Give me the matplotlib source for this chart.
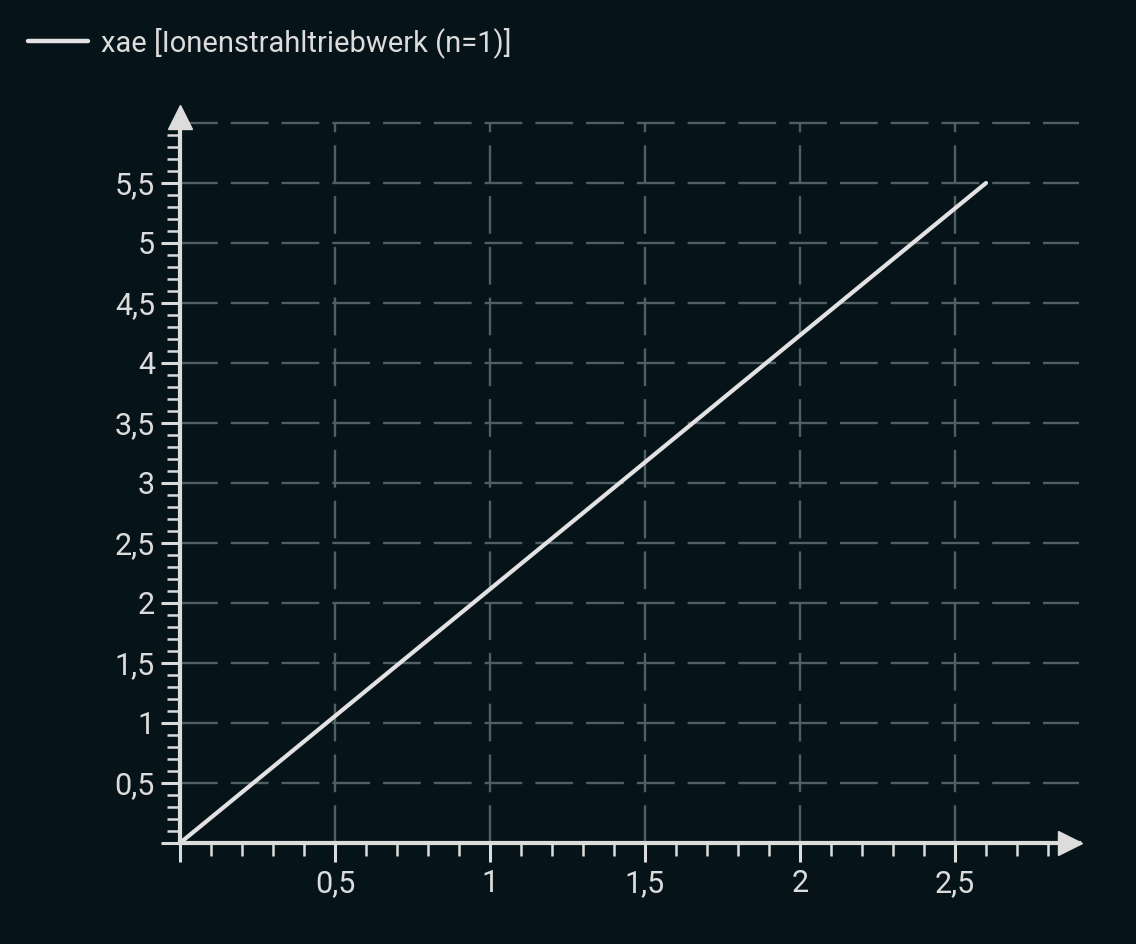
import matplotlib
matplotlib.use("Agg")
import matplotlib.pyplot as plt
import numpy as np
from matplotlib.ticker import FixedLocator, FuncFormatter

plt.rcParams['font.family'] = ['Roboto', 'DejaVu Sans']

# data
x_vals = [0.0, 2.6]
y_vals = [0.0, 5.5]
series_name = "xae [Ionenstrahltriebwerk (n=1)]"

x_major = [0.5, 1.0, 1.5, 2.0, 2.5]
y_major = [0.5, 1.0, 1.5, 2.0, 2.5, 3.0, 3.5, 4.0, 4.5, 5.0, 5.5, 6.0]

bg = "#061419"
fg = "#dcdcdc"
grid_col = "#4f5f63"

fig = plt.figure(figsize=(11.36, 9.44), dpi=100, facecolor=bg)
ax = fig.add_axes([180 / 1136, 101 / 944, 899 / 1136, 720 / 944])
ax.set_facecolor(bg)

ax.set_xlim(0, 2.9)
ax.set_ylim(0, 6.0)

# the series
ax.plot(x_vals, y_vals, color="#e2e2e2", lw=3, solid_capstyle="round",
        label=series_name, zorder=4)

# spines at zero, with arrows
for s in ["top", "right"]:
    ax.spines[s].set_visible(False)
for s in ["left", "bottom"]:
    ax.spines[s].set_color(fg)
    ax.spines[s].set_linewidth(3)
    ax.spines[s].set_zorder(5)
ax.plot(2.87, 0, ">", color=fg, ms=17, clip_on=False, zorder=6)
ax.plot(0, 6.05, "^", color=fg, ms=17, clip_on=False, zorder=6)

# ticks
ax.xaxis.set_major_locator(FixedLocator([0.0] + x_major))
ax.yaxis.set_major_locator(FixedLocator([0.0] + y_major))
ax.xaxis.set_minor_locator(FixedLocator([i / 10 for i in range(1, 29) if i % 5]))
ax.yaxis.set_minor_locator(FixedLocator([i / 10 for i in range(1, 60) if i % 5]))

fmt = FuncFormatter(lambda v, p: "" if v == 0 or v >= 5.99 else f"{v:g}".replace(".", ","))
ax.xaxis.set_major_formatter(fmt)
ax.yaxis.set_major_formatter(fmt)

ax.tick_params(which="major", length=14, width=2.2, color=fg, labelcolor=fg,
               labelsize=22, pad=4)
ax.tick_params(which="minor", length=9.5, width=1.8, color=fg)
ax.tick_params(axis="x", which="major", pad=5)

# hide tick mark at 6.0 (only grid line there)
ax.yaxis.get_major_ticks()[-1].tick1line.set_visible(False)

# dashed grid
ax.grid(True, which="major", color=grid_col, lw=1.7, linestyle=(0, (16, 5.5)))
ax.set_axisbelow(True)
for gl in ax.get_xgridlines() + ax.get_ygridlines():
    gl.set_clip_on(False)

# legend at top left
leg = fig.legend(loc="center left", bbox_to_anchor=(28 / 1136, 1 - 43 / 944),
                 frameon=False, fontsize=21, handlelength=2.05, handletextpad=0.45,
                 borderpad=0, borderaxespad=0)
for t in leg.get_texts():
    t.set_color(fg)
for h in leg.get_lines():
    h.set_linewidth(3.2)

fig.savefig("out.png", dpi=100, facecolor=bg)
